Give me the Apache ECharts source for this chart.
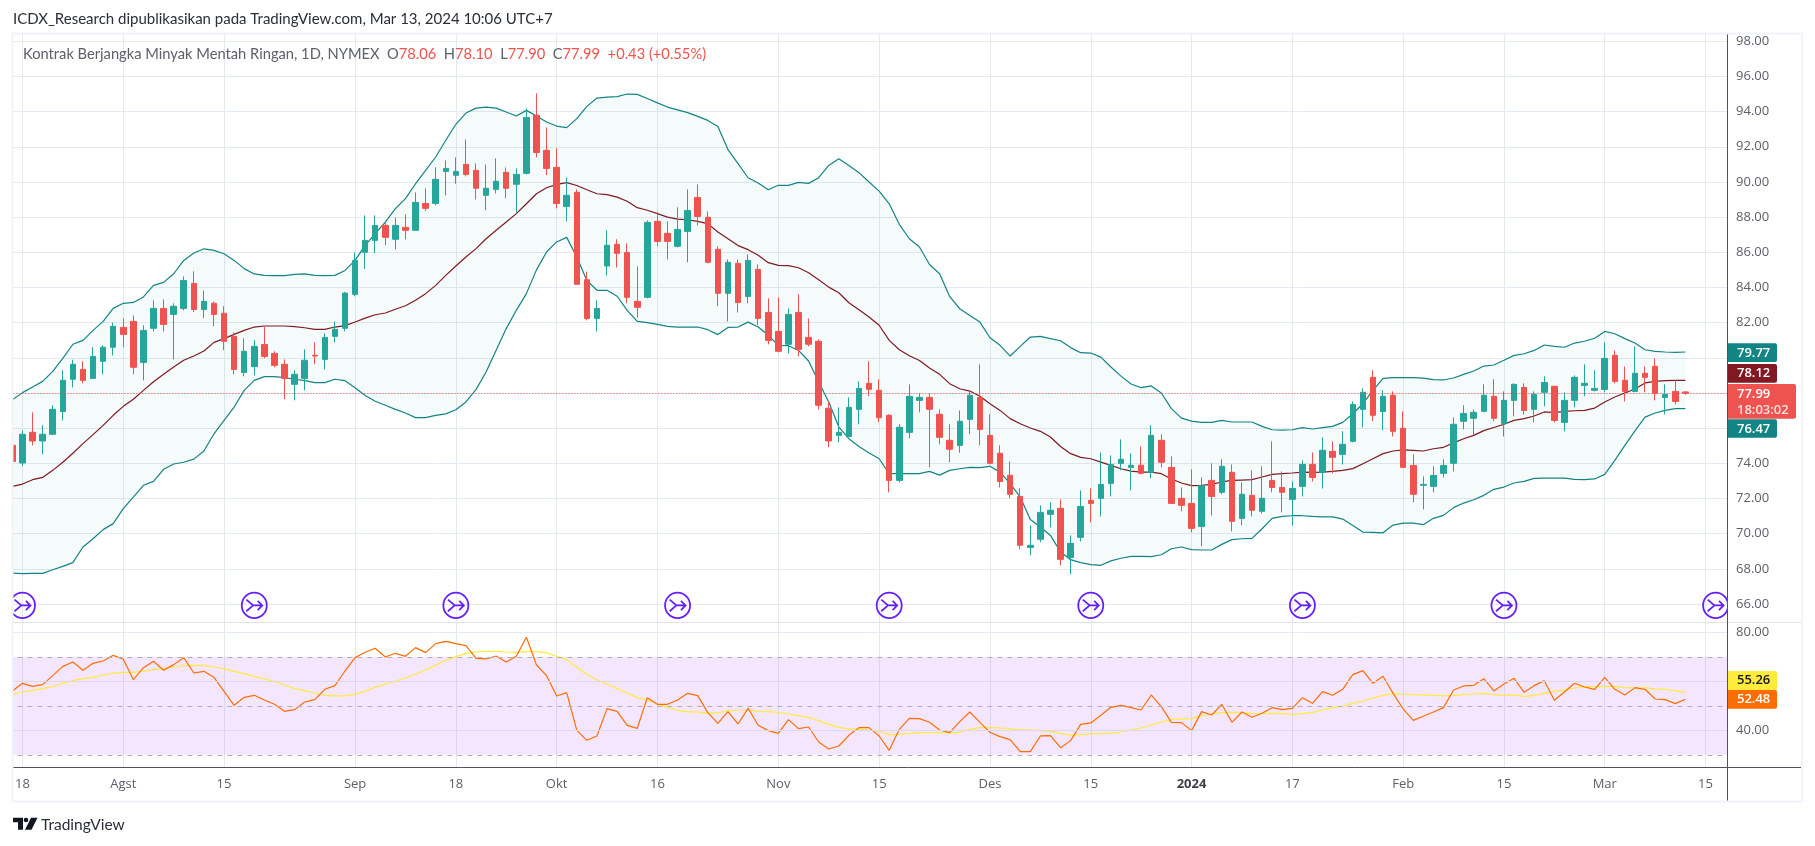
<!DOCTYPE html>
<html><head><meta charset="utf-8"><title>Kontrak Berjangka Minyak Mentah Ringan</title>
<style>html,body{margin:0;padding:0;background:#fff}#c{width:1815px;height:846px}</style>
<script src="https://cdn.jsdelivr.net/npm/echarts@6/dist/echarts.min.js"></script></head>
<body><div id="c"></div>
<script>
const dates=['Jul 17','Jul 18','Jul 19','Jul 20','Jul 21','Jul 24','Jul 25','Jul 26','Jul 27','Jul 28','Jul 31',
'Aug 1','Aug 2','Aug 3','Aug 4','Aug 7','Aug 8','Aug 9','Aug 10','Aug 11','Aug 14','Aug 15','Aug 16','Aug 17','Aug 18','Aug 21','Aug 22','Aug 23','Aug 24','Aug 25','Aug 28','Aug 29','Aug 30','Aug 31',
'Sep 1','Sep 5','Sep 6','Sep 7','Sep 8','Sep 11','Sep 12','Sep 13','Sep 14','Sep 15','Sep 18','Sep 19','Sep 20','Sep 21','Sep 22','Sep 25','Sep 26','Sep 27','Sep 28','Sep 29',
'Oct 2','Oct 3','Oct 4','Oct 5','Oct 6','Oct 9','Oct 10','Oct 11','Oct 12','Oct 13','Oct 16','Oct 17','Oct 18','Oct 19','Oct 20','Oct 23','Oct 24','Oct 25','Oct 26','Oct 27','Oct 30','Oct 31',
'Nov 1','Nov 2','Nov 3','Nov 6','Nov 7','Nov 8','Nov 9','Nov 10','Nov 13','Nov 14','Nov 15','Nov 16','Nov 17','Nov 20','Nov 21','Nov 22','Nov 24','Nov 27','Nov 28','Nov 29','Nov 30',
'Dec 1','Dec 4','Dec 5','Dec 6','Dec 7','Dec 8','Dec 11','Dec 12','Dec 13','Dec 14','Dec 15','Dec 18','Dec 19','Dec 20','Dec 21','Dec 22','Dec 26','Dec 27','Dec 28','Dec 29',
'Jan 2','Jan 3','Jan 4','Jan 5','Jan 8','Jan 9','Jan 10','Jan 11','Jan 12','Jan 16','Jan 17','Jan 18','Jan 19','Jan 22','Jan 23','Jan 24','Jan 25','Jan 26','Jan 29','Jan 30','Jan 31',
'Feb 1','Feb 2','Feb 5','Feb 6','Feb 7','Feb 8','Feb 9','Feb 12','Feb 13','Feb 14','Feb 15','Feb 16','Feb 20','Feb 21','Feb 22','Feb 23','Feb 26','Feb 27','Feb 28','Feb 29',
'Mar 1','Mar 4','Mar 5','Mar 6','Mar 7','Mar 8','Mar 11','Mar 12','Mar 13','Mar 14','Mar 15','Mar 18','Mar 19'];
const opens=[75.02,74.02,75.76,75.27,75.65,76.95,78.78,79.34,78.83,79.8,80.6,
81.73,82.07,79.74,81.68,82.81,82.47,82.81,84.23,82.75,83.1,82.53,81.22,79.17,79.5,80.76,80.25,79.63,78.49,78.83,80.14,79.91,81.22,81.68,
83.61,86.0,86.68,87.53,86.74,87.42,87.25,88.78,88.78,90.6,90.38,91.0,90.66,89.24,89.58,90.55,89.87,90.49,93.79,91.8,
90.83,88.61,89.41,84.44,82.24,85.22,86.45,85.99,83.21,83.44,87.76,87.08,86.34,87.19,89.12,87.99,86.17,83.67,85.37,83.49,85.03,82.58,
81.5,80.77,82.58,81.16,80.94,77.13,75.59,75.53,77.07,78.55,78.15,76.73,73.03,75.76,77.58,77.75,76.79,75.31,75.02,76.5,77.75,
75.59,74.57,73.32,72.12,69.22,69.68,71.1,71.44,68.65,69.79,71.89,72.01,72.86,74.0,73.77,73.89,73.49,75.31,73.77,72.01,
71.72,70.41,73.03,72.35,73.49,70.87,72.18,71.27,73.03,72.63,71.95,72.69,73.94,73.49,74.68,74.51,75.25,77.07,78.89,76.95,77.87,
75.99,73.88,72.75,72.69,73.43,74.0,76.39,76.56,76.96,77.81,76.27,77.58,78.32,77.07,78.04,78.38,76.33,77.58,78.43,78.15,
78.2,80.14,78.72,78.09,79.12,79.51,77.75,78.09,78.06];
const closes=[74.11,75.65,75.27,75.65,77.07,78.72,79.63,78.72,80.08,80.6,81.79,
81.33,79.46,81.56,82.81,81.9,82.93,84.4,82.75,83.21,82.47,80.94,79.34,80.37,80.65,80.08,79.57,78.83,79.06,79.86,80.1,81.16,81.62,83.68,
85.54,86.68,87.53,86.85,87.53,87.25,88.84,88.5,90.15,90.77,90.6,90.43,89.64,89.64,90.04,89.64,90.43,93.67,91.68,90.77,
88.78,89.24,84.18,82.24,82.81,86.4,85.94,83.44,82.87,87.7,86.62,86.62,87.3,88.38,88.04,85.43,83.67,85.43,83.15,85.54,82.24,80.99,
80.37,82.47,80.48,80.77,77.3,75.27,75.76,77.18,78.26,78.21,76.6,73.03,76.05,77.81,77.75,77.07,75.48,74.8,76.39,77.87,75.93,
74.0,72.97,72.24,69.34,69.34,71.21,71.33,68.54,69.45,71.55,71.72,72.8,73.94,74.23,73.89,73.43,75.59,74.06,71.72,71.61,
70.3,72.73,72.12,73.83,70.7,72.24,71.33,72.01,72.63,72.35,72.57,73.94,73.2,74.74,74.34,75.08,77.35,78.04,76.73,77.81,75.82,
73.77,72.24,72.8,73.31,73.88,76.22,76.84,76.9,77.87,76.56,77.58,78.49,77.01,77.92,78.6,76.44,77.58,78.89,78.55,78.26,
79.97,78.66,78.09,79.12,78.89,77.98,77.92,77.52,77.99];
const lows=[74.0,73.85,75.02,74.51,75.65,76.44,78.32,78.55,78.83,79.06,80.14,
80.6,79.06,78.72,81.5,81.5,79.91,82.7,82.6,82.26,81.79,80.43,79.06,78.95,79.0,79.97,79.46,77.64,77.58,78.15,79.63,79.34,80.88,81.5,
83.5,85.05,85.96,86.4,86.17,86.74,87.25,88.35,88.67,89.24,89.9,90.32,89.0,88.39,89.35,89.07,88.27,90.43,91.4,90.38,
88.5,87.76,84.18,82.13,81.5,84.69,85.14,83.1,82.3,83.38,86.34,85.6,86.28,85.43,87.53,85.37,82.93,82.07,82.58,83.1,81.85,80.77,
80.31,80.25,80.08,80.65,77.07,74.91,75.19,75.53,76.22,77.81,76.33,72.35,72.92,75.42,76.9,73.77,75.08,74.06,74.6,75.65,75.02,
73.94,72.63,72.01,69.11,68.77,69.51,70.36,68.2,67.69,69.56,70.64,70.98,72.12,73.6,72.46,73.37,73.15,73.77,71.72,71.27,
70.07,69.28,71.04,72.24,70.13,70.47,70.98,71.15,72.35,71.21,70.47,72.12,72.97,72.57,73.43,73.94,75.19,76.04,76.39,75.87,75.53,
73.77,71.78,71.38,72.35,73.2,73.54,75.93,75.59,76.9,76.39,75.53,76.67,76.78,76.33,77.24,76.33,75.82,77.18,77.81,78.09,
78.04,78.55,77.52,78.04,78.04,77.58,76.78,77.35,77.9];
const highs=[75.2,75.87,76.9,76.16,77.3,79.29,79.89,79.8,80.6,80.71,82.0,
82.24,82.41,81.85,83.27,83.32,83.1,84.63,84.92,83.83,83.2,82.93,81.45,81.11,81.0,81.75,80.37,79.91,79.29,80.48,80.88,81.39,82.07,83.74,
86.0,88.1,88.1,87.8,87.97,88.16,89.41,89.64,90.83,91.23,91.4,92.42,91.06,91.0,91.34,90.83,90.77,94.19,95.04,93.1,
91.91,90.26,89.58,84.9,83.27,87.25,86.74,86.51,85.2,87.82,88.29,87.76,88.56,89.58,89.86,88.33,86.34,85.6,85.6,85.88,85.31,83.38,
83.44,82.81,83.61,82.24,81.05,77.52,77.18,77.75,78.66,79.8,78.78,76.79,76.22,78.49,77.98,77.98,77.07,76.22,77.01,78.15,79.63,
76.79,75.02,74.11,72.58,70.47,71.61,71.78,71.95,69.9,72.46,72.58,74.62,74.45,75.36,74.57,74.97,76.16,75.65,74.4,72.63,
73.66,73.2,74.0,74.23,73.94,72.92,73.6,73.83,75.25,73.54,72.97,74.17,74.62,75.48,75.25,75.82,77.52,78.26,79.29,78.15,78.09,
76.96,74.51,73.26,73.83,74.23,76.61,77.3,77.07,78.49,78.78,78.09,78.55,78.55,78.09,78.95,78.38,78.04,79.0,79.63,79.29,
80.88,80.42,79.51,80.65,79.51,79.97,78.49,78.72,78.1];
const bbUpper=[77.62,78.02,78.34,78.66,79.23,79.97,80.77,80.99,81.56,82.07,82.81,
83.1,83.15,83.46,84.12,84.29,84.78,85.54,85.96,86.2,86.11,85.92,85.54,85.07,84.77,84.69,84.67,84.67,84.74,84.77,84.69,84.67,84.69,84.97,
85.54,86.39,87.06,87.72,88.48,89.05,89.9,90.66,91.42,92.37,93.28,93.92,94.2,94.26,94.2,93.98,93.75,94.07,93.75,93.41,
93.18,93.09,93.6,94.3,94.77,94.82,94.85,95.0,94.98,94.75,94.5,94.26,94.1,93.94,93.73,93.5,93.16,91.84,91.04,90.24,89.94,89.56,
89.81,89.81,89.98,89.92,90.24,90.94,91.32,90.94,90.53,90.0,89.48,88.76,87.59,86.77,86.3,85.31,84.78,83.49,82.79,82.41,82.03,
81.14,80.71,80.1,80.65,81.18,81.22,81.09,80.97,80.58,80.29,80.27,80.04,79.48,78.96,78.51,78.3,78.4,78.0,77.11,76.57,
76.4,76.33,76.33,76.44,76.35,76.35,76.35,76.1,75.91,75.89,75.91,76.03,75.95,76.03,76.1,76.33,76.82,77.39,78.15,78.83,78.87,
78.87,78.87,78.85,78.76,78.74,78.85,79.06,79.25,79.53,79.59,79.86,80.14,80.23,80.42,80.73,80.65,80.6,80.84,80.94,81.11,
81.5,81.37,81.09,80.84,80.46,80.37,80.33,80.31,80.33];
const bbMiddle=[72.69,72.82,73.07,73.2,73.6,74.06,74.57,75.12,75.63,76.16,76.73,
77.24,77.64,78.15,78.64,79.06,79.48,79.86,80.1,80.39,80.88,81.09,81.33,81.56,81.75,81.81,81.81,81.81,81.77,81.71,81.62,81.62,81.75,81.83,
82.04,82.26,82.45,82.55,82.76,82.96,83.27,83.65,84.12,84.69,85.22,85.73,86.21,86.77,87.25,87.72,88.2,88.76,89.33,89.67,
89.86,89.96,89.8,89.56,89.33,89.28,89.14,88.9,88.54,88.39,88.2,88.0,87.89,87.85,87.76,87.63,87.15,86.77,86.38,86.15,85.83,85.41,
85.26,85.24,85.12,84.84,84.44,84.02,83.7,83.13,82.73,82.32,81.85,80.99,80.46,80.12,79.85,79.42,79.06,78.53,78.24,78.11,77.81,
77.39,77.01,76.54,76.25,76.01,75.82,75.5,74.96,74.55,74.34,74.26,74.07,73.88,73.69,73.56,73.5,73.5,73.41,73.11,72.88,
72.73,72.75,72.8,72.94,73.03,73.05,73.07,73.22,73.37,73.41,73.45,73.5,73.49,73.5,73.54,73.6,73.7,73.98,74.26,74.55,74.7,
74.76,74.74,74.7,74.83,74.91,75.16,75.4,75.59,75.86,76.04,76.22,76.44,76.54,76.69,76.92,76.88,76.95,76.99,77.01,77.14,
77.49,77.77,78.0,78.23,78.57,78.66,78.7,78.72,78.72];
const bbLower=[67.76,67.73,67.74,67.74,67.95,68.14,68.35,69.24,69.71,70.23,70.57,
71.42,72.08,72.75,72.97,73.66,73.96,74.06,74.24,74.7,75.68,76.44,77.2,78.15,78.72,78.93,78.93,78.87,78.78,78.7,78.59,78.59,78.78,78.7,
78.3,77.86,77.53,77.3,77.07,76.86,76.6,76.6,76.73,76.81,77.05,77.49,78.19,79.19,80.43,81.66,82.7,83.65,85.0,86.02,
86.59,86.85,85.73,84.4,83.84,83.84,83.5,82.7,82.07,82.0,81.9,81.79,81.75,81.75,81.75,81.6,81.32,81.73,81.75,82.03,81.75,81.28,
80.71,80.69,80.42,79.82,78.62,77.49,76.06,75.4,74.96,74.59,74.26,73.41,73.41,73.41,73.41,73.54,73.33,73.6,73.69,73.77,73.75,
73.83,73.5,72.84,72.08,70.81,70.38,69.9,68.96,68.52,68.35,68.24,68.2,68.45,68.6,68.71,68.71,68.69,68.8,69.14,69.24,
69.09,69.07,69.07,69.39,69.66,69.71,69.73,70.28,70.87,70.98,71.02,71.02,70.98,70.95,70.95,70.83,70.47,70.09,70.07,70.05,70.49,
70.6,70.6,70.51,70.87,71.04,71.48,71.74,71.93,72.18,72.52,72.65,72.88,72.97,73.14,73.16,73.16,73.16,73.09,73.07,73.11,
73.37,74.17,75.02,75.84,76.63,76.86,77.01,77.11,77.11];
const rsi=[56.05,59.17,57.95,58.63,62.3,66.1,67.88,64.48,67.34,68.29,70.6,
68.97,60.67,65.57,68.16,64.48,66.8,69.65,63.39,64.07,61.63,55.91,50.2,53.46,54.28,52.37,50.6,47.75,48.43,51.56,52.51,56.73,58.22,64.21,
69.65,71.83,73.46,69.92,71.42,70.2,73.73,71.69,75.37,76.32,75.37,74.55,69.38,69.11,70.33,67.88,70.2,77.95,66.66,62.3,
54.0,55.37,39.99,35.91,37.68,48.84,47.75,42.03,40.81,53.32,50.6,50.6,52.37,55.09,54.14,47.2,42.85,47.61,42.58,48.97,42.03,39.86,
38.77,44.35,40.67,41.35,35.23,32.37,33.6,37.95,41.08,41.08,37.68,31.83,40.4,44.89,44.75,43.26,40.13,39.04,43.53,47.48,43.26,
39.18,37.41,36.19,31.29,31.29,37.68,37.82,32.92,35.78,42.44,42.99,46.11,49.38,50.2,49.24,48.29,54.42,49.65,43.26,43.12,
39.86,47.61,46.25,50.6,43.26,47.48,45.3,46.93,49.24,48.43,48.97,53.32,51.0,55.77,54.28,56.73,62.71,64.35,59.18,62.03,55.09,
48.7,44.07,45.71,47.48,49.24,56.46,58.09,58.36,61.08,56.05,58.9,61.22,55.5,58.22,60.26,52.24,55.64,59.18,57.68,56.73,
61.63,56.73,54.42,57.41,56.73,52.78,52.51,50.88,52.65];
const rsiMa=[54.55,55.64,56.32,57.0,57.82,59.18,60.26,61.08,61.63,62.58,63.26,
63.67,63.67,64.21,64.75,65.16,65.84,66.39,66.52,66.39,65.84,65.16,64.07,63.12,62.03,60.94,59.99,58.49,57.13,56.18,55.23,54.28,54.01,54.01,
54.69,55.91,57.54,58.9,60.13,61.35,62.85,64.62,66.52,68.56,70.06,71.42,71.96,72.23,72.23,71.96,71.83,72.23,72.1,71.69,
70.2,68.84,65.71,62.85,60.54,58.77,57.13,55.09,53.32,52.37,50.74,49.38,48.16,47.48,47.48,46.93,47.07,48.02,48.29,48.29,47.75,47.61,
47.34,46.66,45.98,45.3,43.94,42.44,41.22,40.54,40.4,40.13,39.59,38.36,38.36,38.63,39.04,39.04,39.04,38.9,39.18,40.4,41.08,
41.08,40.94,40.67,40.13,40.13,39.86,39.59,38.77,37.95,38.22,38.5,38.63,38.77,39.31,40.13,40.94,42.17,43.39,44.35,44.62,
44.75,45.84,46.66,47.2,47.34,47.34,46.93,46.8,46.93,46.8,46.52,46.8,47.34,48.29,49.24,49.92,51.0,51.96,53.19,54.28,54.96,
54.82,54.55,54.42,54.28,54.01,54.28,54.55,54.82,55.09,54.69,54.28,54.42,53.87,54.28,55.09,55.91,56.46,57.27,57.82,57.82,
57.95,57.95,57.41,57.27,57.41,56.87,56.73,56.18,55.5];
const tickDates=['Jul 18','Aug 1','Aug 15','Sep 1','Sep 18','Oct 2','Oct 16','Nov 1','Nov 15','Dec 1','Dec 15','Jan 2','Jan 17','Feb 1','Feb 15','Mar 1','Mar 15'];
const tickLabels=['18','Agst','15','Sep','18','Okt','16','Nov','15','Des','15','2024','17','Feb','15','Mar','15'];
const eventDates=['Jul 18','Aug 18','Sep 18','Oct 18','Nov 16','Dec 15','Jan 18','Feb 15','Mar 18'];
const eventLevel=65.92;
const lastPrice=77.99;
const rsiBandEdges=[70,50,30];
const rsiGridValues=[80,60,40];

const C={up:'#26a69a',dn:'#ef5350',bb:'#138484',mid:'#801922',grid:'#e3eaf1',txt:'#5d606b',frame:'#f0f3fa',axis:'#50535e'};
const F='"Open Sans",sans-serif';
const H='Lato,sans-serif';
const candles=dates.slice(0,opens.length).map((_,i)=>[opens[i],closes[i],lows[i],highs[i]]);
const bandDiff=bbUpper.map((u,i)=>+(u-bbLower[i]).toFixed(2));
const eventPath='path://M12 1a11 11 0 1 0 0.01 0zM5 7L11 12H19M15 8L19 12L15 16M5 17L11 12';
const tickSet=new Set(tickDates);

const L=7.38,W=1723.34;
function tag(x,y,w,h,fill,lines){
  const kids=[{type:'rect',z:30,shape:{x:0,y:0,width:w,height:h,r:[0,2,2,0]},style:{fill}}];
  lines.forEach(l=>kids.push({type:'text',z:31,style:{x:l.x,y:l.y,text:l.t,fill:l.c,font:'600 13px '+F,verticalAlign:'middle'}}));
  return {type:'group',x,y,children:kids};
}
function hline(x1,x2,y,stroke,z){return {type:'line',shape:{x1,y1:y,x2,y2:y},style:{stroke,lineWidth:1},z:z||12,silent:true};}
const option={
  animation:false,backgroundColor:'#fff',
  title:[
    {left:13,top:12,padding:0,text:'ICDX_Research dipublikasikan pada TradingView.com, Mar 13, 2024 10:06 UTC+7',textStyle:{fontFamily:H,fontSize:15,fontWeight:'normal',color:'#2a2e39'}},
    {left:23,top:47,padding:0,text:'{g|Kontrak Berjangka Minyak Mentah Ringan, 1D, NYMEX  O}{r|78.06}{g|  H}{r|78.10}{g|  L}{r|77.90}{g|  C}{r|77.99}{r|  +0.43 (+0.55%)}',
     textStyle:{fontWeight:'normal',rich:{g:{fontFamily:H,fontSize:14.7,fontWeight:'normal',color:'#5d606b'},r:{fontFamily:H,fontSize:14.7,fontWeight:'normal',color:'#ef5350'}}}},
    {left:41,top:817,padding:0,text:'TradingView',textStyle:{fontFamily:H,fontSize:15.5,fontWeight:'normal',color:'#2a2e39'}}
  ],
  grid:[
    {left:L,width:W,top:34.25,height:604.92},
    {left:L,width:W,top:622,height:157.29},
    {left:L,width:W,top:34,height:733.7}
  ],
  xAxis:[
    {type:'category',gridIndex:0,data:dates,show:false},
    {type:'category',gridIndex:1,data:dates,show:false},
    {type:'category',gridIndex:2,data:dates,
     axisLine:{show:false},axisTick:{show:false},
     axisLabel:{interval:(i,v)=>tickSet.has(v),formatter:v=>{const t=tickLabels[tickDates.indexOf(v)];return t==='2024'?'{b|'+t+'}':t;},
       margin:10,color:C.txt,fontFamily:F,fontSize:13,rich:{b:{fontFamily:F,fontSize:13,fontWeight:'bold',color:'#3d4049'}}},
     splitLine:{show:true,alignWithLabel:true,interval:(i,v)=>tickSet.has(v),lineStyle:{color:C.grid,width:1}}}
  ],
  yAxis:[
    {type:'value',gridIndex:0,position:'right',min:64,max:98.4,interval:2,
     axisLine:{show:false},axisTick:{show:false},
     axisLabel:{margin:5.3,showMinLabel:false,showMaxLabel:false,formatter:v=>v.toFixed(2),color:C.txt,fontFamily:F,fontSize:13},
     splitLine:{show:true,showMinLine:false,showMaxLine:false,lineStyle:{color:C.grid,width:1}}},
    {type:'value',gridIndex:1,position:'right',min:20,max:84.2,interval:20,
     axisLine:{show:false},axisTick:{show:false},
     axisLabel:{margin:5.3,showMinLabel:false,showMaxLabel:false,formatter:v=>v.toFixed(2),color:C.txt,fontFamily:F,fontSize:13},
     splitLine:{show:false}},
    {type:'value',gridIndex:2,show:false,min:0,max:1}
  ],
  series:[
    {name:'BB base',type:'line',xAxisIndex:0,yAxisIndex:0,data:bbLower,stack:'bb',symbol:'none',lineStyle:{opacity:0},z:1,silent:true},
    {name:'BB fill',type:'line',xAxisIndex:0,yAxisIndex:0,data:bandDiff,stack:'bb',symbol:'none',lineStyle:{opacity:0},areaStyle:{color:'rgba(19,132,132,0.06)'},z:1,silent:true},
    {name:'BB upper',type:'line',xAxisIndex:0,yAxisIndex:0,data:bbUpper,symbol:'none',lineStyle:{color:C.bb,width:1.2},z:2},
    {name:'BB lower',type:'line',xAxisIndex:0,yAxisIndex:0,data:bbLower,symbol:'none',lineStyle:{color:C.bb,width:1.2},z:2},
    {name:'BB basis',type:'line',xAxisIndex:0,yAxisIndex:0,data:bbMiddle,symbol:'none',lineStyle:{color:C.mid,width:1.2},z:2},
    {name:'Harga',type:'candlestick',xAxisIndex:0,yAxisIndex:0,data:candles,barWidth:6,z:3,
     itemStyle:{color:C.up,color0:C.dn,borderColor:C.up,borderColor0:C.dn,borderWidth:1},
     markLine:{silent:true,symbol:'none',label:{show:false},animation:false,lineStyle:{color:C.dn,type:[1,2],width:1},data:[{yAxis:lastPrice}]}},
    {name:'Event',type:'scatter',xAxisIndex:0,yAxisIndex:0,data:eventDates.map(d=>[d,eventLevel]),symbol:eventPath,symbolSize:[25,25.5],z:4,
     itemStyle:{color:'rgba(255,255,255,0)',borderColor:'#651fff',borderWidth:1.8,opacity:1}},
    {name:'RSI',type:'line',xAxisIndex:1,yAxisIndex:1,data:rsi,symbol:'none',lineStyle:{color:'#ff6d00',width:1.2},z:4,
     markArea:{silent:true,itemStyle:{color:'rgba(156,39,255,0.115)'},data:[[{yAxis:rsiBandEdges[0]},{yAxis:rsiBandEdges[2]}]]},
     markLine:{silent:true,symbol:'none',label:{show:false},animation:false,
       data:[...rsiBandEdges.map(v=>({yAxis:v,lineStyle:{color:'#b2aeb9',type:[5,5],width:1}})),
             ...rsiGridValues.map(v=>({yAxis:v,lineStyle:{color:v===80?C.grid:'#dcd9ee',type:'solid',width:1}}))]}},
    {name:'RSI MA',type:'line',xAxisIndex:1,yAxisIndex:1,data:rsiMa,symbol:'none',lineStyle:{color:'#ffeb3b',width:1.2},z:3}
  ],
  graphic:[
    {type:'rect',shape:{x:1727.5,y:30,width:4,height:775},style:{fill:'#fff'},z:10,silent:true},
    {type:'rect',shape:{x:0,y:30,width:12.5,height:775},style:{fill:'#fff'},z:10,silent:true},
    hline(13,1802,622.5,'#e0e3eb'),
    hline(13,1802,767.5,C.axis),
    {type:'line',shape:{x1:1727.5,y1:34,x2:1727.5,y2:802},style:{stroke:C.axis,lineWidth:1},z:12,silent:true},
    {type:'rect',shape:{x:12.5,y:33.5,width:1789.5,height:768},style:{fill:'none',stroke:C.frame,lineWidth:2},z:13,silent:true},
    tag(1728,343.3,49,18.7,'#138484',[{x:9,y:9.5,t:'79.77',c:'#fff'}]),
    tag(1728,364,49,18.7,'#801922',[{x:9,y:9.5,t:'78.12',c:'#fff'}]),
    tag(1728,384,68,34.7,'#ef5350',[{x:9,y:10,t:'77.99',c:'#fff'},{x:9,y:26,t:'18:03:02',c:'#fde0df'}]),
    tag(1728,419.3,49,18.4,'#138484',[{x:9,y:9.5,t:'76.47',c:'#fff'}]),
    tag(1728,671,49,19,'#ffeb3b',[{x:9,y:9.5,t:'55.26',c:'#131722'}]),
    tag(1728,690,49,18.7,'#ff6d00',[{x:9,y:9.5,t:'52.48',c:'#fff'}]),
    {type:'group',x:13,y:817.7,children:[
      {type:'polygon',z:20,shape:{points:[[0,0],[10,0],[10,12],[5,12],[5,4.5],[0,4.5]]},style:{fill:'#131722'}},
      {type:'circle',z:20,shape:{cx:13,cy:2.3,r:2.3},style:{fill:'#131722'}},
      {type:'polygon',z:20,shape:{points:[[18,0],[24.5,0],[18.5,12],[12,12]]},style:{fill:'#131722'}}
    ]}
  ]
};
const chart=echarts.init(document.getElementById('c'),null,{renderer:'canvas',width:1815,height:846});
chart.setOption(option);
</script></body></html>
